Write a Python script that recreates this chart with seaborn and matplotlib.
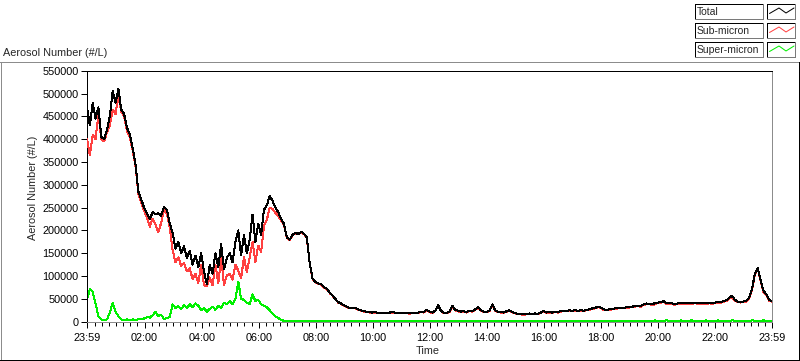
import numpy as np
import pandas as pd
import matplotlib
matplotlib.use("Agg")
import matplotlib.pyplot as plt
from matplotlib.lines import Line2D
from matplotlib.patches import Rectangle
import seaborn as sns

# ---------------- data (thousands of particles per litre, one sample every 6 min) ----------------
SAMPLE_MIN = 6

total_k = [
    470, 430, 480, 445, 470, 405, 400, 420, 450, 505,
    480, 510, 465, 455, 425, 410, 380, 345, 285, 268,
    250, 238, 225, 240, 235, 238, 232, 252, 245, 215,
    195, 160, 175, 150, 165, 140, 155, 125, 145, 120,
    150, 110, 82, 125, 105, 150, 120, 170, 115, 140,
    150, 130, 175, 200, 145, 190, 150, 180, 235, 175,
    215, 190, 245, 255, 275, 265, 250, 240, 225, 215,
    185, 180, 190, 195, 192, 197, 193, 185, 130, 95,
    87, 84, 82, 76, 72, 64, 58, 50, 43, 40,
    36, 33, 30, 31, 30, 27, 25, 23, 22, 21,
    20, 21, 19, 20, 20, 19, 20, 21, 20, 19,
    20, 19, 20, 18, 20, 19, 20, 22, 21, 26,
    22, 20, 24, 36, 24, 20, 19, 22, 35, 26,
    24, 22, 23, 21, 24, 23, 27, 32, 25, 22,
    22, 24, 38, 25, 22, 21, 20, 23, 25, 21,
    19, 17, 17, 16, 17, 18, 17, 18, 17, 20,
    24, 20, 21, 20, 22, 21, 23, 24, 24, 25,
    24, 25, 24, 25, 24, 26, 27, 29, 30, 33,
    31, 27, 26, 27, 28, 29, 30, 31, 30, 32,
    32, 33, 34, 35, 34, 38, 40, 39, 38, 41,
    42, 43, 45, 41, 40, 40, 39, 40, 41, 40,
    41, 40, 41, 42, 41, 40, 41, 41, 42, 41,
    42, 43, 43, 45, 47, 52, 57, 48, 44, 44,
    44, 46, 52, 72, 105, 118, 92, 68, 60, 48, 45,
]

sub_k = [
    400, 365, 410, 400, 455, 400, 395, 415, 430, 465,
    455, 495, 460, 450, 418, 405, 375, 340, 280, 262,
    243, 228, 208, 226, 213, 196, 217, 245, 237, 205,
    157, 130, 141, 122, 129, 110, 117, 93, 105, 85,
    125, 80, 78, 97, 80, 124, 85, 140, 80, 102,
    105, 92, 125, 112, 95, 142, 108, 142, 175, 130,
    167, 152, 210, 223, 250, 247, 238, 232, 221, 213,
    184, 179, 189, 194, 191, 196, 192, 184, 129, 94,
    86, 83, 81, 75, 71, 63, 57, 49, 42, 39,
    35, 32, 29, 30, 29, 26, 24, 22, 21, 20,
    19, 20, 18, 19, 19, 18, 19, 20, 19, 18,
    19, 18, 19, 17, 19, 18, 19, 21, 20, 25,
    21, 19, 23, 35, 23, 19, 18, 21, 34, 25,
    23, 21, 22, 20, 23, 22, 26, 31, 24, 21,
    21, 23, 37, 24, 21, 20, 19, 22, 24, 20,
    18, 16, 16, 15, 16, 17, 16, 17, 16, 19,
    23, 19, 20, 19, 21, 20, 22, 23, 23, 24,
    23, 24, 23, 24, 23, 25, 26, 28, 29, 32,
    30, 26, 25, 26, 27, 28, 29, 30, 29, 31,
    31, 32, 33, 34, 33, 37, 38, 38, 37, 38,
    41, 41, 44, 38, 38, 39, 37, 39, 38, 38,
    40, 38, 38, 41, 39, 39, 39, 38, 41, 39,
    41, 40, 41, 44, 45, 51, 54, 46, 43, 42,
    43, 44, 51, 69, 103, 117, 90, 65, 59, 46, 44,
]

super_k = [
    48, 72, 65, 40, 12, 5, 4, 5, 20, 42,
    22, 12, 5, 4, 5, 4, 5, 4, 5, 6,
    7, 10, 9, 14, 22, 12, 15, 6, 8, 10,
    38, 30, 34, 28, 36, 30, 38, 32, 40, 35,
    25, 30, 22, 28, 33, 26, 35, 30, 42, 38,
    45, 38, 50, 88, 50, 48, 42, 38, 60, 45,
    48, 38, 35, 32, 25, 18, 12, 8, 4, 2,
    1.5, 1.5, 1.5, 1.5, 1.5, 1.5, 1.5, 1.5, 1.5, 1.5,
    1.5, 1.5, 1.5, 1.5, 1.5, 1.5, 1.5, 1.5, 1.5, 1.5,
    1.5, 1.5, 1.5, 1.5, 1.5, 1.5, 1.5, 1.5, 1.5, 1.5,
    1.5, 1.5, 1.5, 1.5, 1.5, 1.5, 1.5, 1.5, 1.5, 1.5,
    1.5, 1.5, 1.5, 1.5, 1.5, 1.5, 1.5, 1.5, 1.5, 1.5,
    1.5, 1.5, 1.5, 1.5, 1.5, 1.5, 1.5, 1.5, 1.5, 1.5,
    1.5, 1.5, 1.5, 1.5, 1.5, 1.5, 1.5, 1.5, 1.5, 1.5,
    1.5, 1.5, 1.5, 1.5, 1.5, 1.5, 1.5, 1.5, 1.5, 1.5,
    1.5, 1.5, 1.5, 1.5, 1.5, 1.5, 1.5, 1.5, 1.5, 1.5,
    1.5, 1.5, 1.5, 1.5, 1.5, 1.5, 1.5, 1.5, 1.5, 1.5,
    1.5, 1.5, 1.5, 1.5, 1.5, 1.5, 1.5, 1.5, 1.5, 1.5,
    1.5, 1.5, 1.5, 1.5, 1.5, 1.5, 1.5, 1.5, 1.5, 1.5,
    1.5, 1.5, 1.5, 1.5, 1.5, 1.5, 2, 1, 1, 3,
    1, 2, 1, 3, 2, 1, 2, 1, 3, 2,
    1, 2, 3, 1, 2, 1, 2, 3, 1, 2,
    1, 3, 2, 1, 2, 1, 3, 2, 1, 2,
    1, 2, 1, 3, 2, 1, 2, 3, 1, 2, 1,
]

y_ticks = [0, 50000, 100000, 150000, 200000, 250000, 300000,
           350000, 400000, 450000, 500000, 550000]
x_tick_labels = ["23:59", "02:00", "04:00", "06:00", "08:00", "10:00", "12:00",
                 "14:00", "16:00", "18:00", "20:00", "22:00", "23:59"]
series_names = ["Total", "Sub-micron", "Super-micron"]
series_colors = ["#000000", "#ff4040", "#00f000"]

# ---------------- figure ----------------
W, H = 800, 361
sns.set_style("white")
plt.rcParams['font.family'] = ['Liberation Sans', 'DejaVu Sans']
FS = 7.8
LW = 0.72  # one pixel at 100 dpi

fig = plt.figure(figsize=(W / 100, H / 100), dpi=100)
fig.patch.set_facecolor("white")


def fx(x):
    return x / W


def fy(y):
    return 1 - y / H


ax = fig.add_axes([fx(87), fy(321.7), fx(772) - fx(87), fy(70.7) - fy(321.7)])

minutes = np.arange(len(total_k)) * SAMPLE_MIN
df = pd.DataFrame({
    "minutes": minutes,
    "Total": np.array(total_k) * 1000.0,
    "Sub-micron": np.array(sub_k) * 1000.0,
    "Super-micron": np.array(super_k) * 1000.0,
})

for name, z in [("Super-micron", 2), ("Sub-micron", 3), ("Total", 4)]:
    col = series_colors[series_names.index(name)]
    sns.lineplot(data=df, x="minutes", y=name, color=col, linewidth=LW,
                 ax=ax, legend=False, estimator=None, zorder=z, antialiased=False)

ax.set_xlim(0, 1440)
ax.set_ylim(0, 550000)
ax.set_xlabel("")
ax.set_ylabel("")


def lbl_to_min(s):
    h, m = map(int, s.split(":"))
    return ((h * 60 + m) - (23 * 60 + 59)) % 1440


x_pos = [lbl_to_min(s) for s in x_tick_labels]
x_pos[-1] = 1440
ax.set_xticks(x_pos)
ax.set_xticklabels(x_tick_labels)
ax.set_xticks(np.arange(1, 1440, 15), minor=True)
ax.set_yticks(y_ticks)
ax.set_yticklabels([str(v) for v in y_ticks])

ax.tick_params(axis="both", which="major", direction="out", colors="black",
               labelsize=FS, width=LW)
ax.tick_params(axis="y", which="major", length=4.0, pad=2, left=True)
ax.tick_params(axis="x", which="major", length=4.5, pad=3.5, bottom=True)
ax.tick_params(axis="x", which="minor", length=2.6, width=LW, bottom=True,
               color="black")
ax.grid(False)

for s in ["left", "top"]:
    ax.spines[s].set_color("black")
    ax.spines[s].set_linewidth(LW)
for s in ["right", "bottom"]:
    ax.spines[s].set_color("#8c8c8c")
    ax.spines[s].set_linewidth(LW)
    ax.spines[s].set_visible(True)
ax.spines["left"].set_visible(True)
ax.spines["top"].set_visible(True)

# ---------------- labels ----------------
fig.text(fx(3), fy(53), "Aerosol Number (#/L)", fontsize=FS, va="center", ha="left")
fig.text(fx(33), fy(188), "Aerosol Number (#/L)", fontsize=FS, va="center",
         ha="center", rotation=90)
fig.text(fx(428), fy(351), "Time", fontsize=FS, va="center", ha="center")


# ---------------- outer frame ----------------
def fline(x0, y0, x1, y1, color, lw=LW):
    fig.add_artist(Line2D([fx(x0), fx(x1)], [fy(y0), fy(y1)], color=color,
                          lw=lw, transform=fig.transFigure, antialiased=False))


fline(0, 61.5, 798.5, 61.5, "#8c8c8c")
fline(0.5, 61.5, 0.5, 360, "#8c8c8c")
fline(798.5, 61.5, 798.5, 360.5, "black")
fline(0, 359.5, 799, 359.5, "black")

# ---------------- legend ----------------
rows_top = [4, 23, 42]
bh = 14.5
for i, name in enumerate(series_names):
    t = rows_top[i]
    b = t + bh
    for (l, r) in [(695, 763), (767, 795)]:
        fig.add_artist(Rectangle((fx(l), fy(b)), fx(r) - fx(l), fy(t) - fy(b),
                                 transform=fig.transFigure, facecolor="white",
                                 edgecolor="none"))
        fline(l, t, r, t, "black")
        fline(l, t, l, b, "black")
        fline(l, b, r, b, "#7a7a7a")
        fline(r, t, r, b, "#7a7a7a")
    fig.text(fx(697), fy(t + bh / 2 + 0.3), name, fontsize=7.5, va="center", ha="left")
    xs = [769.5, 779, 786, 794]
    ys = [t + 9.5, t + 4.0, t + 9.0, t + 4.0]
    fig.add_artist(Line2D([fx(v) for v in xs], [fy(v) for v in ys],
                          color=series_colors[i], lw=LW,
                          transform=fig.transFigure))

fig.savefig("out.png", dpi=100, facecolor="white")
